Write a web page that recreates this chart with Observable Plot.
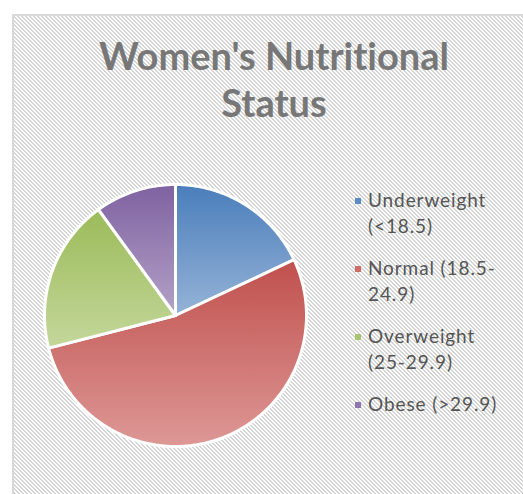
<!DOCTYPE html>
<html><head><meta charset="utf-8">
<script src="https://cdn.jsdelivr.net/npm/d3@7"></script>
<script src="https://cdn.jsdelivr.net/npm/@observablehq/plot@0.6"></script>
<style>
html,body{margin:0;padding:0;background:#fff;}
#wrap{position:relative;width:523px;height:494px;overflow:hidden;font-variant-ligatures:none;font-feature-settings:"liga" 0;}
#panel{position:absolute;left:12px;top:14px;width:560px;height:540px;border-left:2px solid #d9d9d9;border-top:2px solid #d9d9d9;
  background:repeating-linear-gradient(45deg,#ffffff 0px,#ffffff 1.4px,#d4d4d4 1.4px,#d4d4d4 2.83px);}
#chart{position:absolute;left:0;top:0;}
#chart svg{background:transparent !important;}
#title{position:absolute;left:0;top:32px;width:548px;text-align:center;font-family:Lato,"DejaVu Sans",sans-serif;font-weight:bold;font-size:38px;line-height:47px;color:#777777;}
#legend{position:absolute;left:355px;top:187px;font-family:Lato,"DejaVu Sans",sans-serif;font-size:19px;line-height:26px;color:#555555;letter-spacing:0.9px;}
.item{position:relative;padding-left:13px;margin-bottom:16px;}
.sw{position:absolute;left:0;top:11px;width:6px;height:6px;}
</style></head>
<body>
<div id="wrap">
  <div id="panel"></div>
  <div id="chart"></div>
  <div id="title">Women's Nutritional<br>Status</div>
  <div id="legend"></div>
</div>
<script>
const categories = ["Underweight (<18.5)", "Normal (18.5-24.9)", "Overweight (25-29.9)", "Obese (>29.9)"];
const values = [18, 53, 19, 10];
const legendLines = [["Underweight", "(<18.5)"], ["Normal (18.5-", "24.9)"], ["Overweight", "(25-29.9)"], ["Obese (>29.9)"]];
const topColors = ["#4a7ebb", "#c0504d", "#9bbb59", "#7f62a1"];
const bottomColors = ["#95b3d7", "#dd9896", "#c4d79b", "#b3a2c7"];
const swatchColors = ["#5b8bc7", "#cd6b68", "#a9c572", "#8f75ae"];

const arcs = d3.pie().sort(null).value(d => d)(values);
function slicePoints(a, i) {
  const pts = [{x: 0, y: 0, cat: categories[i]}];
  const n = Math.max(2, Math.ceil((a.endAngle - a.startAngle) / 0.01));
  for (let k = 0; k <= n; k++) {
    const t = a.startAngle + (a.endAngle - a.startAngle) * k / n;
    pts.push({x: Math.sin(t), y: Math.cos(t), cat: categories[i]});
  }
  pts.push({x: 0, y: 0, cat: categories[i]});
  return pts;
}

const plot = Plot.plot({
  width: 523, height: 494,
  marginLeft: 44, marginRight: 217, marginTop: 184, marginBottom: 48,
  x: {domain: [-1, 1], axis: null},
  y: {domain: [-1, 1], axis: null},
  style: {background: "transparent"},
  marks: arcs.map((a, i) => Plot.line(slicePoints(a, i), {
    x: "x", y: "y", fill: `url(#grad${i})`, stroke: "#ffffff", strokeWidth: 3, strokeLinejoin: "round", curve: "linear"
  }))
});
const defs = d3.select(plot).insert("defs", ":first-child");
topColors.forEach((c, i) => {
  const g = defs.append("linearGradient").attr("id", `grad${i}`).attr("x1", 0).attr("y1", 0).attr("x2", 0).attr("y2", 1);
  g.append("stop").attr("offset", "0%").attr("stop-color", c);
  g.append("stop").attr("offset", "100%").attr("stop-color", bottomColors[i]);
});
document.getElementById("chart").appendChild(plot);

const legend = d3.select("#legend");
legendLines.forEach((lines, i) => {
  const item = legend.append("div").attr("class", "item");
  item.append("div").attr("class", "sw").style("background", swatchColors[i]);
  lines.forEach(l => item.append("div").text(l));
});
</script>
</body></html>
